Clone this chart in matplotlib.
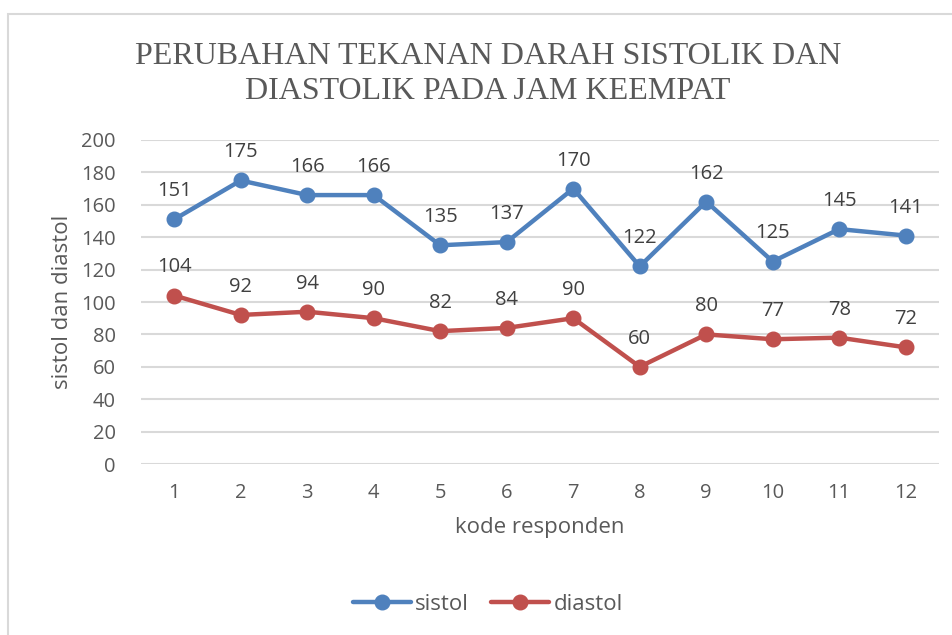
import matplotlib
matplotlib.use("Agg")
import matplotlib.pyplot as plt
from matplotlib.patches import Rectangle

# ── Data ──────────────────────────────────────────────────────────────────────
kode = ["1", "2", "3", "4", "5", "6", "7", "8", "9", "10", "11", "12"]
sistol = [151, 175, 166, 166, 135, 137, 170, 122, 162, 125, 145, 141]
diastol = [104, 92, 94, 90, 82, 84, 90, 60, 80, 77, 78, 72]
y_ticks = [0, 20, 40, 60, 80, 100, 120, 140, 160, 180, 200]

BLUE = "#4F81BD"
RED = "#C0504D"
TEXT = "#595959"
GRID = "#D9D9D9"

plt.rcParams["font.family"] = ["Open Sans", "DejaVu Sans"]

W, H = 953, 635
fig = plt.figure(figsize=(W / 100, H / 100), dpi=100)
ax = fig.add_axes([141 / W, 1 - 464 / H, (939 - 141) / W, (464 - 140) / H])

# chart border (cut off on right/bottom like the screenshot)
fig.patches.append(Rectangle((8 / W, -0.1), 1.2, 1 - 14 / H + 0.1,
                             transform=fig.transFigure, fill=False,
                             edgecolor=GRID, linewidth=1.5))

x = list(range(1, len(kode) + 1))
ax.plot(x, sistol, color=BLUE, lw=3.2, marker="o", ms=10.5, label="sistol",
        solid_capstyle="round", zorder=3)
ax.plot(x, diastol, color=RED, lw=3.2, marker="o", ms=10.5, label="diastol",
        solid_capstyle="round", zorder=3)

for xi, v in zip(x, sistol):
    ax.annotate(str(v), (xi, v), xytext=(0, 13), textcoords="offset points",
                ha="center", va="bottom", fontsize=14.5, color="#404040")
for xi, v in zip(x, diastol):
    ax.annotate(str(v), (xi, v), xytext=(0, 13), textcoords="offset points",
                ha="center", va="bottom", fontsize=14.5, color="#404040")

ax.set_xlim(0.5, len(kode) + 0.5)
ax.set_ylim(0, 200)
ax.set_yticks(y_ticks)
ax.set_xticks(x)
ax.set_xticklabels(kode)
ax.grid(axis="y", color=GRID, lw=1.5)
ax.set_axisbelow(True)
for s in ax.spines.values():
    s.set_visible(False)
ax.tick_params(length=0, labelsize=14.5, labelcolor=TEXT, pad=14)
ax.tick_params(axis="y", pad=18)

ax.set_xlabel("kode responden", fontsize=16, color=TEXT, labelpad=10)
ax.set_ylabel("sistol dan diastol", fontsize=16, color=TEXT, labelpad=6)

fig.text(488 / W, 1 - 74 / H,
         "PERUBAHAN TEKANAN DARAH SISTOLIK DAN\nDIASTOLIK PADA JAM KEEMPAT",
         ha="center", va="center", fontsize=23, color=TEXT,
         family="Liberation Serif", linespacing=1.3)

fig.legend(loc="center", bbox_to_anchor=(488 / W, 1 - 604 / H), ncol=2,
           frameon=False, fontsize=16, labelcolor=TEXT, handlelength=2.6,
           columnspacing=1.0, handletextpad=0.2)

fig.savefig("out.png", dpi=100)
